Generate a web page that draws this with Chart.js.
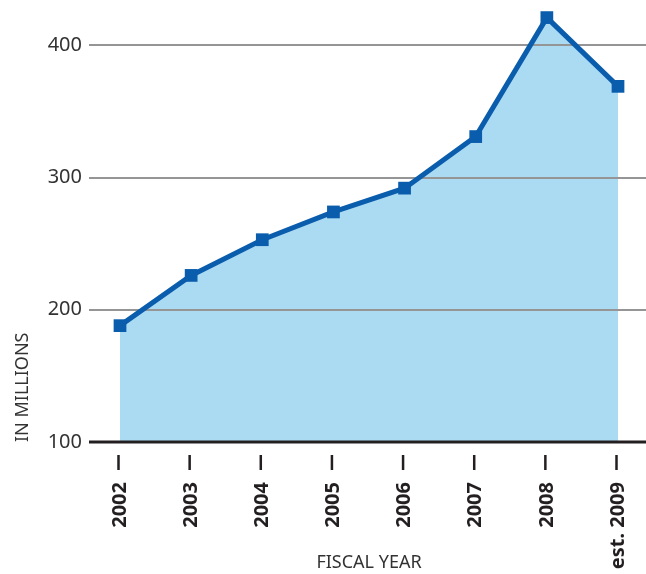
<!DOCTYPE html>
<html>
<head>
<meta charset="utf-8">
<script src="https://cdn.jsdelivr.net/npm/chart.js@4/dist/chart.umd.min.js"></script>
<style>
  html, body { margin: 0; padding: 0; background: #fff; }
  #wrap { width: 646px; height: 574px; position: relative; }
</style>
</head>
<body>
<div id="wrap"><canvas id="fundChart"></canvas></div>
<script>
// fiscal years and amounts (in millions)
const years = ['2002', '2003', '2004', '2005', '2006', '2007', '2008', 'est. 2009'];
const amounts = [188, 226, 253, 274, 292, 331, 421, 369];
const yTicks = [100, 200, 300, 400];

const blue = '#0a5dac';
const fillBlue = '#abdaf3';

// grid lines run past the plot area, axis line and tick marks sit apart from labels
const axisDecor = {
    id: 'axisDecor',
    beforeDatasetsDraw(chart) {
        const c = chart.ctx;
        const y = chart.scales.y;
        c.save();
        c.strokeStyle = '#959595';
        c.lineWidth = 2;
        yTicks.slice(1).forEach(v => {
            const py = Math.round(y.getPixelForValue(v));
            c.beginPath();
            c.moveTo(89, py);
            c.lineTo(chart.width, py);
            c.stroke();
        });
        c.restore();
    },
    afterDatasetsDraw(chart) {
        const c = chart.ctx;
        const x = chart.scales.x;
        const y = chart.scales.y;
        const base = y.getPixelForValue(100);
        c.save();
        c.strokeStyle = '#231f20';
        c.lineWidth = 3;
        c.beginPath();
        c.moveTo(89, base);
        c.lineTo(chart.width, base);
        c.stroke();
        c.lineWidth = 2.5;
        years.forEach((_, i) => {
            const px = x.getPixelForTick(i) - 1.5;
            c.beginPath();
            c.moveTo(px, base + 13);
            c.lineTo(px, base + 28);
            c.stroke();
        });
        c.restore();
    }
};

new Chart(document.getElementById('fundChart'), {
    type: 'line',
    data: {
        labels: years,
        datasets: [{
            data: amounts,
            borderColor: blue,
            borderWidth: 5,
            backgroundColor: fillBlue,
            fill: 'start',
            tension: 0,
            pointStyle: 'rect',
            pointRadius: 9,
            pointBorderWidth: 0,
            pointBackgroundColor: blue,
            clip: false
        }]
    },
    options: {
        responsive: true,
        maintainAspectRatio: false,
        animation: false,
        layout: { padding: { top: 0, right: 28, left: 0, bottom: 0 } },
        plugins: {
            legend: { display: false },
            tooltip: { enabled: false },
            filler: { drawTime: 'beforeDatasetsDraw' }
        },
        scales: {
            x: {
                offset: false,
                grid: { display: false, drawTicks: false },
                border: { display: false },
                afterFit: s => {
                    s.height = 132;
                    s.paddingLeft = 0;
                    s.paddingRight = 0;
                },
                ticks: {
                    minRotation: 90,
                    maxRotation: 90,
                    padding: 40,
                    color: '#231f20',
                    font: { family: 'Noto Sans', size: 20, weight: 'bold' }
                },
                title: {
                    display: true,
                    text: 'FISCAL YEAR',
                    color: '#333',
                    padding: { top: 0, bottom: 0 },
                    font: { family: 'Noto Sans', size: 18 }
                }
            },
            y: {
                min: 100,
                max: 427.5,
                grid: { display: false, drawTicks: false },
                border: { display: false },
                afterFit: s => {
                    s.width = 120;
                    s.paddingTop = 0;
                    s.paddingBottom = 0;
                },
                afterBuildTicks: s => { s.ticks = yTicks.map(v => ({ value: v })); },
                ticks: {
                    padding: 38,
                    color: '#333',
                    font: { family: 'Noto Sans', size: 20 }
                },
                title: {
                    display: true,
                    text: 'IN MILLIONS',
                    align: 'start',
                    color: '#333',
                    padding: { top: 12, bottom: 0 },
                    font: { family: 'Noto Sans', size: 18 }
                }
            }
        }
    },
    plugins: [axisDecor]
});
</script>
</body>
</html>
